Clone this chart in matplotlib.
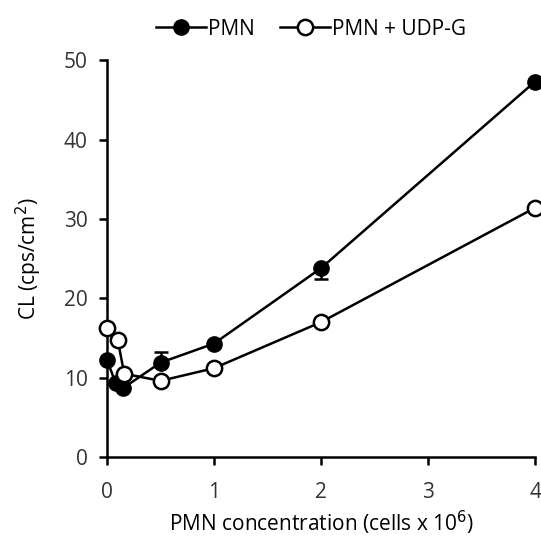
import matplotlib.pyplot as plt
import numpy as np

plt.rcParams["font.family"] = ["Open Sans", "DejaVu Sans"]

# PMN concentration (cells x 10^6)
x_pmn = [0, 0.08, 0.15, 0.5, 1, 2, 4]
y_pmn = [12.2, 9.3, 8.7, 11.9, 14.3, 23.8, 47.3]
err_lo_pmn = [0, 0, 0, 0, 0, 1.4, 0]
err_hi_pmn = [0, 0, 0, 1.3, 0, 0, 0]

x_udpg = [0, 0.1, 0.16, 0.5, 1, 2, 4]
y_udpg = [16.3, 14.7, 10.5, 9.6, 11.2, 17.0, 31.4]

fig = plt.figure(figsize=(5.41, 5.52), dpi=100)
ax = fig.add_axes([0.198, 0.172, 0.791, 0.719])

ax.errorbar(x_pmn, y_pmn, yerr=[err_lo_pmn, err_hi_pmn], fmt="none",
            ecolor="black", elinewidth=1.8, capsize=5, capthick=1.8,
            zorder=2, clip_on=False)
ax.plot(x_pmn, y_pmn, "-o", color="black", lw=1.8, ms=11,
        mfc="black", mec="black", label="PMN", zorder=3, clip_on=False)
ax.plot(x_udpg, y_udpg, "-o", color="black", lw=1.8, ms=11,
        mfc="white", mec="black", mew=1.8, label="PMN + UDP-G", zorder=4,
        clip_on=False)

ax.set_xlim(0, 4)
ax.set_ylim(0, 50)
ax.set_xticks([0, 1, 2, 3, 4])
ax.set_yticks([0, 10, 20, 30, 40, 50])
for side in ["top", "right"]:
    ax.spines[side].set_visible(False)
for side in ["left", "bottom"]:
    ax.spines[side].set_linewidth(1.8)
ax.tick_params(axis="y", direction="out", length=6, width=1.8, labelsize=15, pad=8)
ax.tick_params(axis="x", direction="out", length=6, width=1.8, labelsize=15, pad=12)
ax.set_xlabel("PMN concentration (cells x 10$^{6}$)", fontsize=15, labelpad=4)
ax.set_ylabel("CL (cps/cm$^{2}$)", fontsize=15, labelpad=14)
for t in ax.get_xticklabels() + ax.get_yticklabels():
    t.set_color("#333333")

fig.legend(loc="upper center", bbox_to_anchor=(0.575, 1.0), ncol=2, frameon=False,
           fontsize=15, handlelength=2.4, handletextpad=0.1, columnspacing=1.2)

fig.savefig("out.png", dpi=100)
